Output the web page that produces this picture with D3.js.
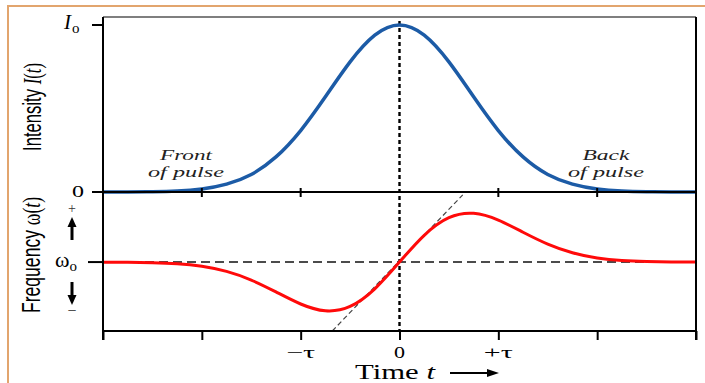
<!DOCTYPE html>
<html>
<head>
<meta charset="utf-8">
<script src="https://cdn.jsdelivr.net/npm/d3@7"></script>
<style>
  html, body { margin: 0; padding: 0; background: #fff; }
  svg { display: block; }
  .serif { font-family: "Liberation Serif", "DejaVu Serif", serif; }
  .narrow { font-family: "Liberation Sans Narrow", "Liberation Sans", sans-serif; }
</style>
</head>
<body>
<div id="chart"></div>
<script>
const timeSteps = [-3, -2.75, -2.5, -2.25, -2, -1.75, -1.5, -1.25, -1, -0.75, -0.5, -0.25, 0,
  0.25, 0.5, 0.75, 1, 1.25, 1.5, 1.75, 2, 2.25, 2.5, 2.75, 3];
const intensity = [0.0001, 0.0005, 0.002, 0.006, 0.018, 0.047, 0.105, 0.21, 0.368, 0.57, 0.779, 0.939, 1,
  0.939, 0.779, 0.57, 0.368, 0.21, 0.105, 0.047, 0.018, 0.006, 0.002, 0.0005, 0.0001];
const freqShift = [-0.001, -0.003, -0.01, -0.028, -0.073, -0.164, -0.316, -0.524, -0.736, -0.855, -0.779, -0.47, 0,
  0.47, 0.779, 0.855, 0.736, 0.524, 0.316, 0.164, 0.073, 0.028, 0.01, 0.003, 0.001];

// linear chirp near the centre (dashed tangent)
const tangentTime = [-0.68, 0.64];
const tangentFreq = [-1.21, 1.18];

const xTicks = [-3, -2, -1, 0, 1, 2, 3];
const xLabelValues = [-1, 0, 1];
const xLabelText = ['\u2212\u03c4', '0', '+\u03c4'];

const width = 705;
const height = 383;

const svg = d3.select('#chart')
  .append('svg')
  .attr('width', width)
  .attr('height', height);

// frame of the page
svg.append('path')
  .attr('d', `M8,${height}V6H${width}`)
  .attr('fill', 'none')
  .attr('stroke', '#e2a56e')
  .attr('stroke-width', 2);

const left = 103, right = 696;
const topY = 17, midY = 192, bottomY = 331;

const x = d3.scaleLinear().domain([-3, 3]).range([left, right]);
const yI = d3.scaleLinear().domain([0, 1]).range([midY, 25]);
const yW = d3.scaleLinear().domain([-1.21, 1.23]).range([bottomY, midY]);

const line = (xs, ys, yScale, curve) => d3.line()
  .x((d, i) => x(xs[i]))
  .y((d, i) => yScale(ys[i]))
  .curve(curve || d3.curveNatural)(xs);

// simple filled arrow: shaft from (x1,y1) to tip (x2,y2)
function arrow(x1, y1, x2, y2, w, head, headW) {
  const a = Math.atan2(y2 - y1, x2 - x1);
  const bx = x2 - head * Math.cos(a), by = y2 - head * Math.sin(a);
  const nx = -Math.sin(a), ny = Math.cos(a);
  svg.append('line')
    .attr('x1', x1).attr('y1', y1).attr('x2', bx).attr('y2', by)
    .attr('stroke', '#000').attr('stroke-width', w);
  svg.append('path')
    .attr('d', `M${x2},${y2}L${bx + nx * headW / 2},${by + ny * headW / 2}L${bx - nx * headW / 2},${by - ny * headW / 2}Z`)
    .attr('fill', '#000');
}

// dashed reference lines
svg.append('line')
  .attr('x1', x(-3)).attr('x2', x(3))
  .attr('y1', yW(0)).attr('y2', yW(0))
  .attr('stroke', '#111').attr('stroke-width', 1.5)
  .attr('stroke-dasharray', '9,5');

svg.append('line')
  .attr('x1', x(0)).attr('x2', x(0))
  .attr('y1', 21).attr('y2', bottomY)
  .attr('stroke', '#000').attr('stroke-width', 2.4)
  .attr('stroke-dasharray', '4,3');

svg.append('path')
  .attr('d', line(tangentTime, tangentFreq, yW, d3.curveLinear))
  .attr('fill', 'none')
  .attr('stroke', '#444').attr('stroke-width', 1.2)
  .attr('stroke-dasharray', '5,3');

// curves
svg.append('path')
  .attr('d', line(timeSteps, intensity, yI))
  .attr('fill', 'none')
  .attr('stroke', '#1c5ba6')
  .attr('stroke-width', 3.5);

svg.append('path')
  .attr('d', line(timeSteps, freqShift, yW))
  .attr('fill', 'none')
  .attr('stroke', '#ff0a0a')
  .attr('stroke-width', 3);

// box
svg.append('path')
  .attr('d', `M${left},${topY}H${right}`)
  .attr('stroke', '#555').attr('stroke-width', 1.5);
svg.append('path')
  .attr('d', `M${left},${topY}V340M${right},${topY}V340`)
  .attr('stroke', '#000').attr('stroke-width', 2);
svg.append('path')
  .attr('d', `M${left},${midY}H${right}M${left},${bottomY}H${right}`)
  .attr('stroke', '#000').attr('stroke-width', 2);

// x ticks on the bottom axis
const xAxis = svg.append('g')
  .attr('transform', `translate(0,${bottomY})`)
  .call(d3.axisBottom(x).tickValues(xTicks).tickSize(9).tickFormat(''));
xAxis.select('.domain').remove();
xAxis.selectAll('.tick line').attr('stroke', '#000').attr('stroke-width', 2);

// crossing ticks on the shared middle axis
svg.append('g')
  .selectAll('line')
  .data(xTicks.filter(d => d !== 0 && Math.abs(d) !== 3))
  .join('line')
  .attr('x1', d => x(d)).attr('x2', d => x(d))
  .attr('y1', midY - 4).attr('y2', midY + 5)
  .attr('stroke', '#000').attr('stroke-width', 2);

svg.append('g')
  .selectAll('text')
  .data(xLabelValues)
  .join('text')
  .attr('class', 'serif')
  .attr('x', d => x(d))
  .attr('y', 358)
  .attr('text-anchor', 'middle')
  .attr('font-size', 17)
  .attr('textLength', (d, i) => xLabelText[i].length > 1 ? 29 : 11)
  .attr('lengthAdjust', 'spacingAndGlyphs')
  .text((d, i) => xLabelText[i]);

// axis title with arrow
const timeLabel = svg.append('text')
  .attr('class', 'serif')
  .attr('x', 355).attr('y', 379)
  .attr('font-size', 20)
  .attr('textLength', 80)
  .attr('lengthAdjust', 'spacingAndGlyphs');
timeLabel.append('tspan').text('Time ');
timeLabel.append('tspan').attr('font-style', 'italic').text('t');

arrow(450, 373, 499, 373, 2, 12, 8);

// intensity axis
svg.append('g')
  .selectAll('line')
  .data([0, 1])
  .join('line')
  .attr('x1', 92).attr('x2', left)
  .attr('y1', d => yI(d)).attr('y2', d => yI(d))
  .attr('stroke', '#000').attr('stroke-width', 2);

svg.append('text')
  .attr('class', 'serif')
  .attr('x', 78).attr('y', yI(0) + 5)
  .attr('text-anchor', 'middle')
  .attr('font-size', 16)
  .attr('textLength', 12)
  .attr('lengthAdjust', 'spacingAndGlyphs')
  .text('0');

const i0 = svg.append('text')
  .attr('class', 'serif')
  .attr('x', 64).attr('y', yI(1) + 4)
  .attr('font-size', 21);
i0.append('tspan').attr('font-style', 'italic').text('I');
i0.append('tspan').attr('dy', 4).attr('dx', 1).attr('font-size', 15).text('o');

const intLabel = svg.append('text')
  .attr('class', 'narrow')
  .attr('transform', `translate(41,107) rotate(-90)`)
  .attr('text-anchor', 'middle')
  .attr('font-size', 26)
  .attr('textLength', 88)
  .attr('lengthAdjust', 'spacingAndGlyphs');
intLabel.append('tspan').text('Intensity ');
intLabel.append('tspan').attr('class', 'serif').attr('font-style', 'italic').text('I');
intLabel.append('tspan').attr('class', 'serif').text('(');
intLabel.append('tspan').attr('class', 'serif').attr('font-style', 'italic').text('t');
intLabel.append('tspan').attr('class', 'serif').text(')');

// frequency axis
svg.append('line')
  .attr('x1', 88).attr('x2', left)
  .attr('y1', yW(0)).attr('y2', yW(0))
  .attr('stroke', '#000').attr('stroke-width', 2);

const w0 = svg.append('text')
  .attr('class', 'serif')
  .attr('x', 55).attr('y', yW(0) + 5)
  .attr('font-size', 22);
w0.append('tspan').text('\u03c9');
w0.append('tspan').attr('dy', 4).attr('font-size', 15).text('o');

svg.append('text')
  .attr('class', 'serif')
  .attr('x', 72).attr('y', 213)
  .attr('text-anchor', 'middle')
  .attr('font-size', 14)
  .attr('fill', '#333')
  .text('+');
svg.append('text')
  .attr('class', 'serif')
  .attr('x', 72).attr('y', 316)
  .attr('text-anchor', 'middle')
  .attr('font-size', 16)
  .attr('fill', '#333')
  .text('\u2212');

arrow(72, 240, 72, 217, 3, 10, 9);
arrow(72, 282, 72, 305, 3, 10, 9);

const freqLabel = svg.append('text')
  .attr('class', 'narrow')
  .attr('transform', `translate(40,255) rotate(-90)`)
  .attr('text-anchor', 'middle')
  .attr('font-size', 26)
  .attr('textLength', 116)
  .attr('lengthAdjust', 'spacingAndGlyphs');
freqLabel.append('tspan').text('Frequency ');
freqLabel.append('tspan').attr('class', 'serif').text('\u03c9(');
freqLabel.append('tspan').attr('class', 'serif').attr('font-style', 'italic').text('t');
freqLabel.append('tspan').attr('class', 'serif').text(')');

// annotations
const notes = [
  { cx: 186, lines: ['Front', 'of pulse'], lens: [52, 76] },
  { cx: 606, lines: ['Back', 'of pulse'], lens: [47, 76] }
];
notes.forEach(n => {
  n.lines.forEach((s, i) => {
    svg.append('text')
      .attr('class', 'serif')
      .attr('x', n.cx - n.lens[i] / 2)
      .attr('y', 160 + i * 17)
      .attr('font-size', 15)
      .attr('font-style', 'italic')
      .attr('fill', '#222')
      .attr('textLength', n.lens[i])
      .attr('lengthAdjust', 'spacingAndGlyphs')
      .text(s);
  });
});
</script>
</body>
</html>
